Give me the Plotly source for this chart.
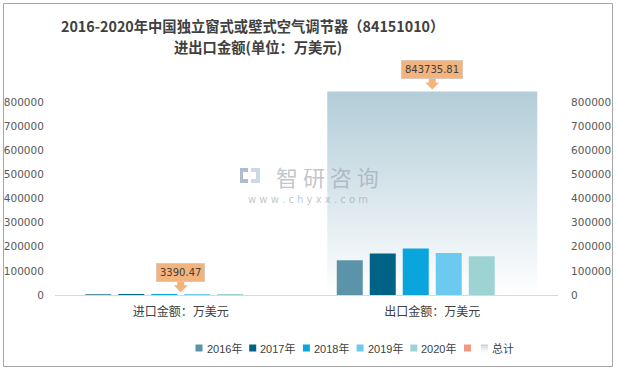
import plotly.graph_objects as go

categories = ["进口金额：万美元", "出口金额：万美元"]
years = ["2016年", "2017年", "2018年", "2019年", "2020年"]
import_vals = [612.3, 689.5, 715.2, 702.1, 671.37]
export_vals = [144000, 172000, 193000, 174000, 160735.81]
totals = [3390.47, 843735.81]
total_labels = ["3390.47", "843735.81"]
total_name = "总计"
empty_name = ""
tick_vals = [0, 100000, 200000, 300000, 400000, 500000, 600000, 700000, 800000]
title_line1 = "2016-2020年中国独立窗式或壁式空气调节器（84151010）"
title_line2 = "进出口金额(单位：万美元)"

year_colors = ["#5b93a9", "#006386", "#0aa5dc", "#6ccaf0", "#9dd4d3"]
empty_color = "#ee9a80"
total_top, total_bottom = "#b2cdd8", "#ffffff"

# geometry (style)
W, H = 619, 371
L, R, T, B = 55, 61, 55, 76
YMAX = 994700
slot = 0.1312
bw = 0.1034
tot_w = 0.835

xpos = list(range(len(categories)))


def pxx(p):
    return (p - L) / (W - L - R)


def pyy(p):
    return (H - B - p) / (H - T - B)


fig = go.Figure()

# total bars (vertical gradient) on primary y, drawn behind the yearly bars
px, py = [], []
for i, v in zip(xpos, totals):
    x0, x1 = i - tot_w / 2, i + tot_w / 2
    px += [x0, x1, x1, x0, x0, None]
    py += [0, 0, v, v, 0, None]
fig.add_trace(go.Scatter(
    x=px, y=py, mode="lines", fill="toself", line=dict(width=0, color=total_top),
    fillgradient=dict(type="vertical", colorscale=[[0, total_bottom], [1, total_top]]),
    name=total_name, hoverinfo="skip", yaxis="y", xaxis="x", showlegend=False,
))

series = [[imp, exp] for imp, exp in zip(import_vals, export_vals)]
for k, (name, vals, col) in enumerate(zip(years, series, year_colors)):
    off = -3 * slot + k * slot + (slot - bw) / 2
    fig.add_trace(go.Bar(
        x=xpos, y=vals, name=name, marker=dict(color=col, line=dict(width=0)),
        width=bw, offset=off, yaxis="y2", xaxis="x", showlegend=False,
    ))
fig.add_trace(go.Bar(
    x=xpos, y=[0, 0], name=empty_name, marker=dict(color=empty_color, line=dict(width=0)),
    width=bw, offset=-3 * slot + 5 * slot + (slot - bw) / 2, yaxis="y2", xaxis="x",
    showlegend=False,
))

ann = []
shapes = []

# title (two centred lines)
ann.append(dict(x=pxx(252), y=pyy(25), xref="paper", yref="paper", text="<b>%s</b>" % title_line1,
                showarrow=False, yanchor="middle",
                font=dict(size=14.3, color="#404040", family="Noto Sans CJK SC")))
ann.append(dict(x=pxx(258), y=pyy(46.5), xref="paper", yref="paper", text="<b>%s</b>" % title_line2,
                showarrow=False, yanchor="middle",
                font=dict(size=14.3, color="#404040", family="Noto Sans CJK SC")))

callout_fill = "#f2b37c"
for i, v, t in zip(xpos, totals, total_labels):
    ann.append(dict(
        x=i, y=v, xref="x", yref="y", text=t, showarrow=False, yanchor="bottom",
        yshift=12, bgcolor=callout_fill, bordercolor="#dcc8b4", borderwidth=1, borderpad=3,
        font=dict(size=10, color="#404040", family="DejaVu Sans"),
    ))
    shapes.append(dict(
        type="path", xref="x", yref="y", xsizemode="pixel", ysizemode="pixel",
        xanchor=i, yanchor=v, path="M -3.5 13 L 3.5 13 L 3.5 9 L 7 9 L 0 2 L -7 9 L -3.5 9 Z",
        fillcolor=callout_fill, line=dict(width=0),
    ))

# watermark
wm = "rgba(150,160,168,0.6)"
ann.append(dict(x=pxx(327), y=pyy(176), xref="paper", yref="paper", text="智 研 咨 询",
                showarrow=False, font=dict(size=22, color=wm, family="Noto Sans CJK SC")))
ann.append(dict(x=pxx(308), y=pyy(199), xref="paper", yref="paper",
                text="w w w . c h y x x . c o m", showarrow=False,
                font=dict(size=10, color=wm, family="DejaVu Sans")))
for (a, b, c, d, col) in [(240, 168, 248, 183, "rgba(110,135,160,0.55)"),
                          (251, 168, 260, 183, "rgba(150,170,190,0.45)")]:
    shapes.append(dict(type="rect", xref="paper", yref="paper", x0=pxx(a), x1=pxx(c),
                       y0=pyy(d), y1=pyy(b), fillcolor=col, line=dict(width=0)))
shapes.append(dict(type="rect", xref="paper", yref="paper", x0=pxx(243), x1=pxx(248),
                   y0=pyy(179), y1=pyy(172), fillcolor="white", line=dict(width=0)))
shapes.append(dict(type="rect", xref="paper", yref="paper", x0=pxx(251), x1=pxx(256),
                   y0=pyy(179), y1=pyy(172), fillcolor="white", line=dict(width=0)))

# chart border
shapes.append(dict(type="rect", xref="paper", yref="paper",
                   x0=pxx(3.5), x1=pxx(612.5), y0=pyy(366.5), y1=pyy(3.5),
                   line=dict(color="#a6a6a6", width=1), fillcolor="rgba(0,0,0,0)", layer="below"))

# legend (drawn as swatches + text, Excel style)
leg_names = years + [empty_name, total_name]
leg_cols = year_colors + [empty_color, None]
leg_y = 348
x = 195.5
for name, col in zip(leg_names, leg_cols):
    if col is None:
        grad = ["#c3d4de", "#d6e2e8", "#e8eff2", "#f7fafb"]
        for s, gc in enumerate(grad):
            shapes.append(dict(type="rect", xref="paper", yref="paper",
                               x0=pxx(x), x1=pxx(x + 7), y0=pyy(leg_y - 3.5 + 2 * (s + 1)),
                               y1=pyy(leg_y - 3.5 + 2 * s), fillcolor=gc, line=dict(width=0)))
    else:
        shapes.append(dict(type="rect", xref="paper", yref="paper",
                           x0=pxx(x), x1=pxx(x + 7), y0=pyy(leg_y + 3.5), y1=pyy(leg_y - 3.5),
                           fillcolor=col, line=dict(width=0)))
    if name:
        ann.append(dict(x=pxx(x + 9), y=pyy(leg_y), xref="paper", yref="paper", text=name,
                        showarrow=False, xanchor="left", yanchor="middle",
                        font=dict(size=11, color="#404040",
                                  family="Liberation Sans, Noto Sans CJK SC")))
        x += 53.7
    else:
        x += 17

axis_font = dict(size=10.5, color="#595959", family="DejaVu Sans")
fig.update_layout(
    width=W, height=H,
    margin=dict(l=L, r=R, t=T, b=B),
    paper_bgcolor="white", plot_bgcolor="rgba(0,0,0,0)",
    barmode="overlay",
    showlegend=False,
    font=dict(family="DejaVu Sans, Noto Sans CJK SC", color="#404040"),
    xaxis=dict(
        tickmode="array", tickvals=xpos, ticktext=categories, range=[-0.5, 1.5],
        showline=True, linecolor="#d9d9d9", linewidth=1, showgrid=False, zeroline=False,
        ticks="outside", ticklen=6, tickcolor="rgba(0,0,0,0)", automargin=False,
        layer="above traces",
        tickfont=dict(size=12, color="#404040", family="Noto Sans CJK SC"),
    ),
    yaxis=dict(
        range=[0, YMAX], tickmode="array", tickvals=tick_vals, showgrid=False,
        zeroline=False, showline=False, ticks="outside", ticklen=8, automargin=False,
        tickcolor="rgba(0,0,0,0)", tickfont=axis_font, tickformat="d",
    ),
    yaxis2=dict(
        range=[0, YMAX], tickmode="array", tickvals=tick_vals, showgrid=False,
        zeroline=False, showline=False, overlaying="y", side="right", ticks="outside",
        ticklen=10, tickcolor="rgba(0,0,0,0)", tickfont=axis_font, tickformat="d",
        automargin=False,
    ),
    annotations=ann,
    shapes=shapes,
)

fig.write_html("out.html", config={"displayModeBar": False},
               post_script="document.body.style.margin='0';")
